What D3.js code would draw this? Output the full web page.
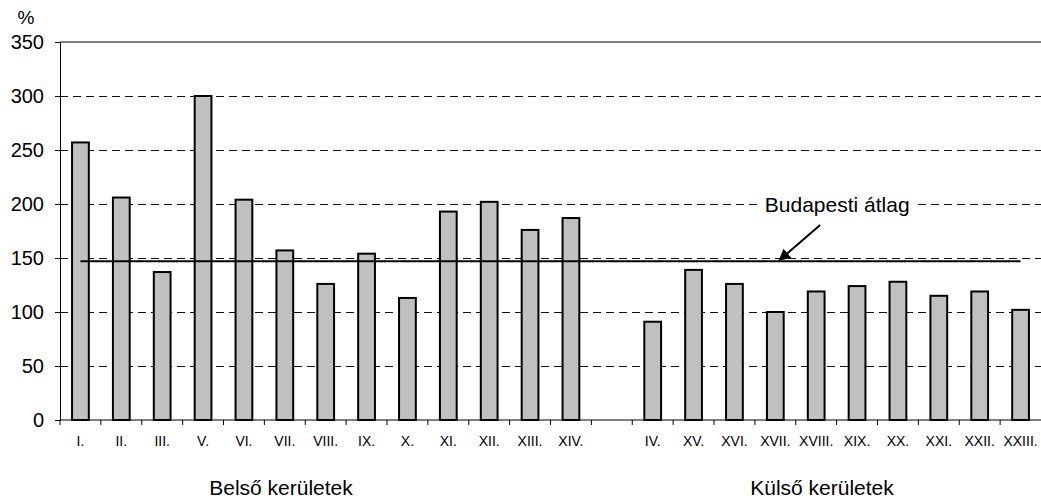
<!DOCTYPE html>
<html><head><meta charset="utf-8">
<script src="https://cdn.jsdelivr.net/npm/d3@7"></script>
<style>body{margin:0;background:#fff}svg{display:block}text{font-family:"Liberation Sans",Arial,sans-serif}</style>
</head><body><svg id="c" width="1041" height="504"></svg>
<script>
const categories = ["I.","II.","III.","V.","VI.","VII.","VIII.","IX.","X.","XI.","XII.","XIII.","XIV.","",
  "IV.","XV.","XVI.","XVII.","XVIII.","XIX.","XX.","XXI.","XXII.","XXIII."];
const values = [257,206,137,300,204,157,126,154,113,193,202,176,187,null,
  91,139,126,100,119,124,128,115,119,102];
const average = 147;
const yTicks = [0,50,100,150,200,250,300,350];
const groupLabels = ["Belső kerületek","Külső kerületek"];
const avgLabel = "Budapesti átlag";
const yUnit = "%";

const svg = d3.select("#c");
const L = 60, R = 1041, T = 42, B = 420;
const x = d3.scaleBand().domain(categories.map((c,i)=>i)).range([L,R]).padding(0);
const y = d3.scaleLinear().domain([0,350]).range([B,T]);
const bw = x.bandwidth()*0.41;
const cx = i => x(i)+x.bandwidth()/2;

// gridlines
svg.append("g").selectAll("line").data(yTicks.filter(t=>t>0&&t<350)).join("line")
  .attr("x1",L).attr("x2",R).attr("y1",d=>Math.round(y(d))+0.5).attr("y2",d=>Math.round(y(d))+0.5)
  .attr("stroke","#111").attr("stroke-width",1).attr("stroke-dasharray","8,5");
svg.append("line").attr("x1",L).attr("x2",R).attr("y1",y(350)).attr("y2",y(350)).attr("stroke","#000");

// y axis
const ya = svg.append("g").attr("transform",`translate(${L},0)`)
  .call(d3.axisLeft(y).tickValues(yTicks).tickSize(5).tickPadding(11));
ya.select(".domain").attr("stroke","#000");
ya.selectAll("text").attr("font-size",20).attr("fill","#000").attr("font-family","Liberation Sans, Arial");
svg.append("text").attr("x",26).attr("y",24).attr("text-anchor","middle").attr("font-size",19).text(yUnit);

// x axis
const xa = svg.append("g").attr("transform",`translate(0,${B})`);
xa.append("line").attr("x1",L).attr("x2",R).attr("stroke","#000");
xa.selectAll("line.t").data(d3.range(categories.length)).join("line").attr("class","t")
  .attr("x1",i=>x(i)).attr("x2",i=>x(i)).attr("y1",0).attr("y2",5).attr("stroke","#000");
xa.selectAll("text").data(categories).join("text")
  .attr("x",(d,i)=>cx(i)).attr("y",26).attr("text-anchor","middle")
  .attr("font-size",14).text(d=>d);

// bars
svg.append("g").selectAll("rect").data(values.map((v,i)=>({v,i})).filter(d=>d.v!=null)).join("rect")
  .attr("x",d=>x(d.i)+(x.bandwidth()-bw)/2).attr("width",bw)
  .attr("y",d=>y(d.v)).attr("height",d=>y(0)-y(d.v))
  .attr("fill","#c0c0c0").attr("stroke","#000").attr("stroke-width",2);

// average line
svg.append("line").attr("x1",cx(0)).attr("x2",cx(categories.length-1))
  .attr("y1",y(average)).attr("y2",y(average)).attr("stroke","#000").attr("stroke-width",2);

// annotation
const lx = cx(18)+21, ly = y(192.5);
const bg = svg.append("rect").attr("fill","#fff");
const t = svg.append("text").attr("x",lx).attr("y",ly).attr("text-anchor","middle").attr("font-size",21).text(avgLabel);
const bb = t.node().getBBox();
bg.attr("x",bb.x-7).attr("y",bb.y).attr("width",bb.width+14).attr("height",bb.height);
svg.append("defs").append("marker").attr("id","ah").attr("viewBox","0 0 10 10").attr("refX",9).attr("refY",5)
  .attr("markerWidth",6).attr("markerHeight",6).attr("orient","auto")
  .append("path").attr("d","M0,0L10,5L0,10z").attr("fill","#000");
svg.append("line").attr("x1",cx(18)+4).attr("y1",y(180.5))
  .attr("x2",cx(17)+4).attr("y2",y(average)-1)
  .attr("stroke","#000").attr("stroke-width",2).attr("marker-end","url(#ah)");

// group labels
svg.append("text").attr("x",281).attr("y",495).attr("text-anchor","middle").attr("font-size",21).text(groupLabels[0]);
svg.append("text").attr("x",822).attr("y",495).attr("text-anchor","middle").attr("font-size",21).text(groupLabels[1]);
</script></body></html>
